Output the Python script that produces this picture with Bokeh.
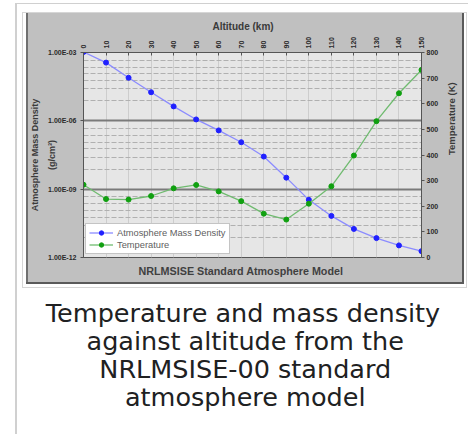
from bokeh.plotting import figure
from bokeh.models import Range1d, LinearAxis, LinearScale, FixedTicker, Title
from bokeh.embed import file_html
from bokeh.resources import INLINE

# ---------------- data ----------------
ALTITUDE_KM = [0, 10, 20, 30, 40, 50, 60, 70, 80, 90, 100, 110, 120, 130, 140, 150]
DENSITY_G_CM3 = [1.05e-3, 3.6e-4, 7.8e-5, 1.8e-5, 4.3e-6, 1.15e-6, 3.8e-7, 1.15e-7,
                 2.7e-8, 3.2e-9, 3.4e-10, 6.7e-11, 1.8e-11, 7.1e-12, 3.4e-12, 1.9e-12]
TEMPERATURE_K = [284, 228, 226, 240, 270, 283, 258, 220, 171, 148, 210, 278, 398, 532, 641, 732]

ALT_TICKS = list(range(0, 151, 10))
DENSITY_TICKS = [1e-12, 1e-9, 1e-6, 1e-3]
DENSITY_TICK_LABELS = ["1.00E-12", "1.00E-09", "1.00E-06", "1.00E-03"]
TEMP_TICKS = list(range(0, 801, 100))

TOP_TITLE = "Altitude (km)"
LEFT_TITLE = "Atmosphere Mass Density\n(g/cm\u00b3)"
RIGHT_TITLE = "Temperature (K)"
CHART_TITLE = "NRLMSISE Standard Atmosphere Model"
SERIES_NAMES = ["Atmosphere Mass Density", "Temperature"]
CAPTION_LINES = ["Temperature and mass density", "against altitude from the",
                 "NRLMSISE-00 standard", "atmosphere model"]

# minor (dashed) grid lines: offsets in decades below each major line
MINOR_OFFSETS = [0.34, 0.64, 0.93, 1.23, 1.6, 2.12]
DENSITY_MINOR = [t * 10 ** (-o) for t in DENSITY_TICKS[1:] for o in MINOR_OFFSETS]

FONT = "Liberation Sans"
W, H = 473, 434
FRAME_L, FRAME_R, FRAME_T, FRAME_B = 83, 421, 52, 257

p = figure(width=W, height=H, x_range=Range1d(0, 150), y_range=Range1d(1e-12, 1e-3),
           y_axis_type="log", x_axis_location="above",
           output_backend="svg", toolbar_location=None,
           min_border_left=FRAME_L, min_border_right=W - FRAME_R,
           min_border_top=FRAME_T, min_border_bottom=H - FRAME_B,
           border_fill_alpha=0, background_fill_color="#e6e6e6",
           outline_line_color="#555555", outline_line_width=1)
p.extra_y_ranges = {"temp": Range1d(0, 800)}
p.extra_y_scales = {"temp": LinearScale()}

# ---------- grids ----------
dens_ticker = FixedTicker(ticks=DENSITY_TICKS, minor_ticks=DENSITY_MINOR)
p.ygrid.ticker = dens_ticker
p.ygrid.grid_line_color = "#7a7a7a"
p.ygrid.grid_line_width = 2
p.ygrid.minor_grid_line_color = "#b0b0b0"
p.ygrid.minor_grid_line_dash = "5 2"
p.ygrid.minor_grid_line_width = 1
p.xgrid.ticker = FixedTicker(ticks=ALT_TICKS)
p.xgrid.grid_line_color = "#cdcdcd"
p.xgrid.grid_line_width = 1


def style_axis(ax, title_size):
    ax.axis_label_text_font = FONT
    ax.axis_label_text_font_style = "bold"
    ax.axis_label_text_font_size = title_size
    ax.axis_label_text_color = "#3a3a3a"
    ax.major_label_text_font = FONT
    ax.major_label_text_font_style = "bold"
    ax.major_label_text_font_size = "7px"
    ax.major_label_text_color = "#2a2a2a"
    ax.major_tick_line_color = "#555555"
    ax.minor_tick_line_color = None
    ax.axis_line_color = "#555555"


# ---------- axes ----------
xa = p.xaxis[0]
style_axis(xa, "10px")
xa.ticker = FixedTicker(ticks=ALT_TICKS)
xa.major_label_orientation = 1.5708
xa.major_label_standoff = 4
xa.major_tick_in = 3
xa.major_tick_out = 0
# top axis title placed as a title above the axis so it can sit slightly left of centre
p.add_layout(Title(text=TOP_TITLE, align="left", offset=212 - FRAME_L, vertical_align="middle",
                   standoff=1, text_font=FONT, text_font_style="bold", text_font_size="10px",
                   text_color="#3a3a3a"), "above")

ya = p.yaxis[0]
style_axis(ya, "9px")
ya.ticker = dens_ticker
ya.major_label_overrides = {t: lab for t, lab in zip(DENSITY_TICKS, DENSITY_TICK_LABELS)}
ya.axis_label = LEFT_TITLE
ya.axis_label_text_line_height = 1.7
ya.axis_label_standoff = -12
ya.major_label_standoff = 3
ya.major_tick_in = 0
ya.major_tick_out = 3

ra = LinearAxis(y_range_name="temp", ticker=FixedTicker(ticks=TEMP_TICKS))
style_axis(ra, "9.5px")
ra.axis_label = RIGHT_TITLE
ra.axis_label_orientation = 1.5708
ra.axis_label_standoff = 10
ra.major_label_standoff = 2
ra.major_tick_in = 0
ra.major_tick_out = 3
p.add_layout(ra, "right")

# ---------- series ----------
p.line(ALTITUDE_KM, DENSITY_G_CM3, line_color="#8c8cff", line_width=1.3, legend_label=SERIES_NAMES[0])
p.scatter(ALTITUDE_KM, DENSITY_G_CM3, size=5, fill_color="#2020ff", line_color="#2020ff",
          legend_label=SERIES_NAMES[0])
p.line(ALTITUDE_KM, TEMPERATURE_K, y_range_name="temp", line_color="#70bb70", line_width=1.3,
       legend_label=SERIES_NAMES[1])
p.scatter(ALTITUDE_KM, TEMPERATURE_K, y_range_name="temp", size=5, fill_color="#10a010",
          line_color="#10a010", legend_label=SERIES_NAMES[1])

lg = p.legend[0]
lg.location = (2, 3)
lg.margin = 0
lg.padding = 3
lg.spacing = 1
lg.glyph_width = 24
lg.glyph_height = 11
lg.label_height = 11
lg.label_standoff = 4
lg.label_text_font = FONT
lg.label_text_font_size = "9.3px"
lg.label_text_color = "#606060"
lg.border_line_color = "#8a8a8a"
lg.background_fill_color = "white"
lg.background_fill_alpha = 1

# ---------- chart title + caption as stacked titles below the plot ----------
# approximate DejaVu Sans advance widths (em) used to centre the caption lines
DEJAVU_EM = {" ": .318, "T": .611, "e": .615, "m": .974, "p": .635, "r": .411, "a": .613,
             "t": .392, "u": .634, "n": .634, "d": .635, "s": .521, "i": .278, "y": .592,
             "g": .635, "l": .278, "f": .352, "o": .612, "h": .634, "N": .748, "R": .695,
             "L": .557, "M": .863, "S": .635, "I": .295, "E": .632, "-": .361, "0": .636}
CAP_SIZE = 25.5
CAP_CENTER = 245
CAP_H = 29.7          # estimated text box height of one caption line

p.add_layout(Title(text=CHART_TITLE, align="left", offset=138 - FRAME_L, vertical_align="middle",
                   standoff=12, text_font=FONT, text_font_style="bold",
                   text_font_size="10.75px", text_color="#404040"), "below")
p.add_layout(Title(text=" ", align="left", vertical_align="middle", standoff=11.5,
                   text_font_size="1px", text_color="white"), "below")
for line in CAPTION_LINES:
    wpx = sum(DEJAVU_EM.get(ch, .6) for ch in line) * CAP_SIZE
    p.add_layout(Title(text=line, align="left", offset=CAP_CENTER - wpx / 2 - FRAME_L,
                       vertical_align="middle", standoff=28 - 2 - CAP_H,
                       text_font="DejaVu Sans", text_font_style="normal",
                       text_font_size=f"{CAP_SIZE}px", text_color="#202122"), "below")

# ---------- page / picture frame drawn as CSS background rectangles ----------
RECTS = [  # (x, y, w, h, colour) top-most first
    (462, 13, 2, 271, "#5a5a5a"),
    (26, 282, 438, 2, "#5a5a5a"),
    (26, 13, 2, 271, "#707070"),
    (26, 13, 438, 271, "#c0c0c0"),
    (23, 13, 443, 274, "#ffffff"),
    (22, 12, 445, 276, "#d6d6d6"),
    (15, 3, 453, 1, "#d0d0d0"),
    (15, 3, 2, 431, "#d0d0d0"),
]
p.styles = {
    "background-color": "#ffffff",
    "background-image": ", ".join(f"linear-gradient({r[4]}, {r[4]})" for r in RECTS),
    "background-size": ", ".join(f"{r[2]}px {r[3]}px" for r in RECTS),
    "background-position": ", ".join(f"{r[0]}px {r[1]}px" for r in RECTS),
    "background-repeat": "no-repeat",
}

open("out.html", "w").write(file_html(p, INLINE))
